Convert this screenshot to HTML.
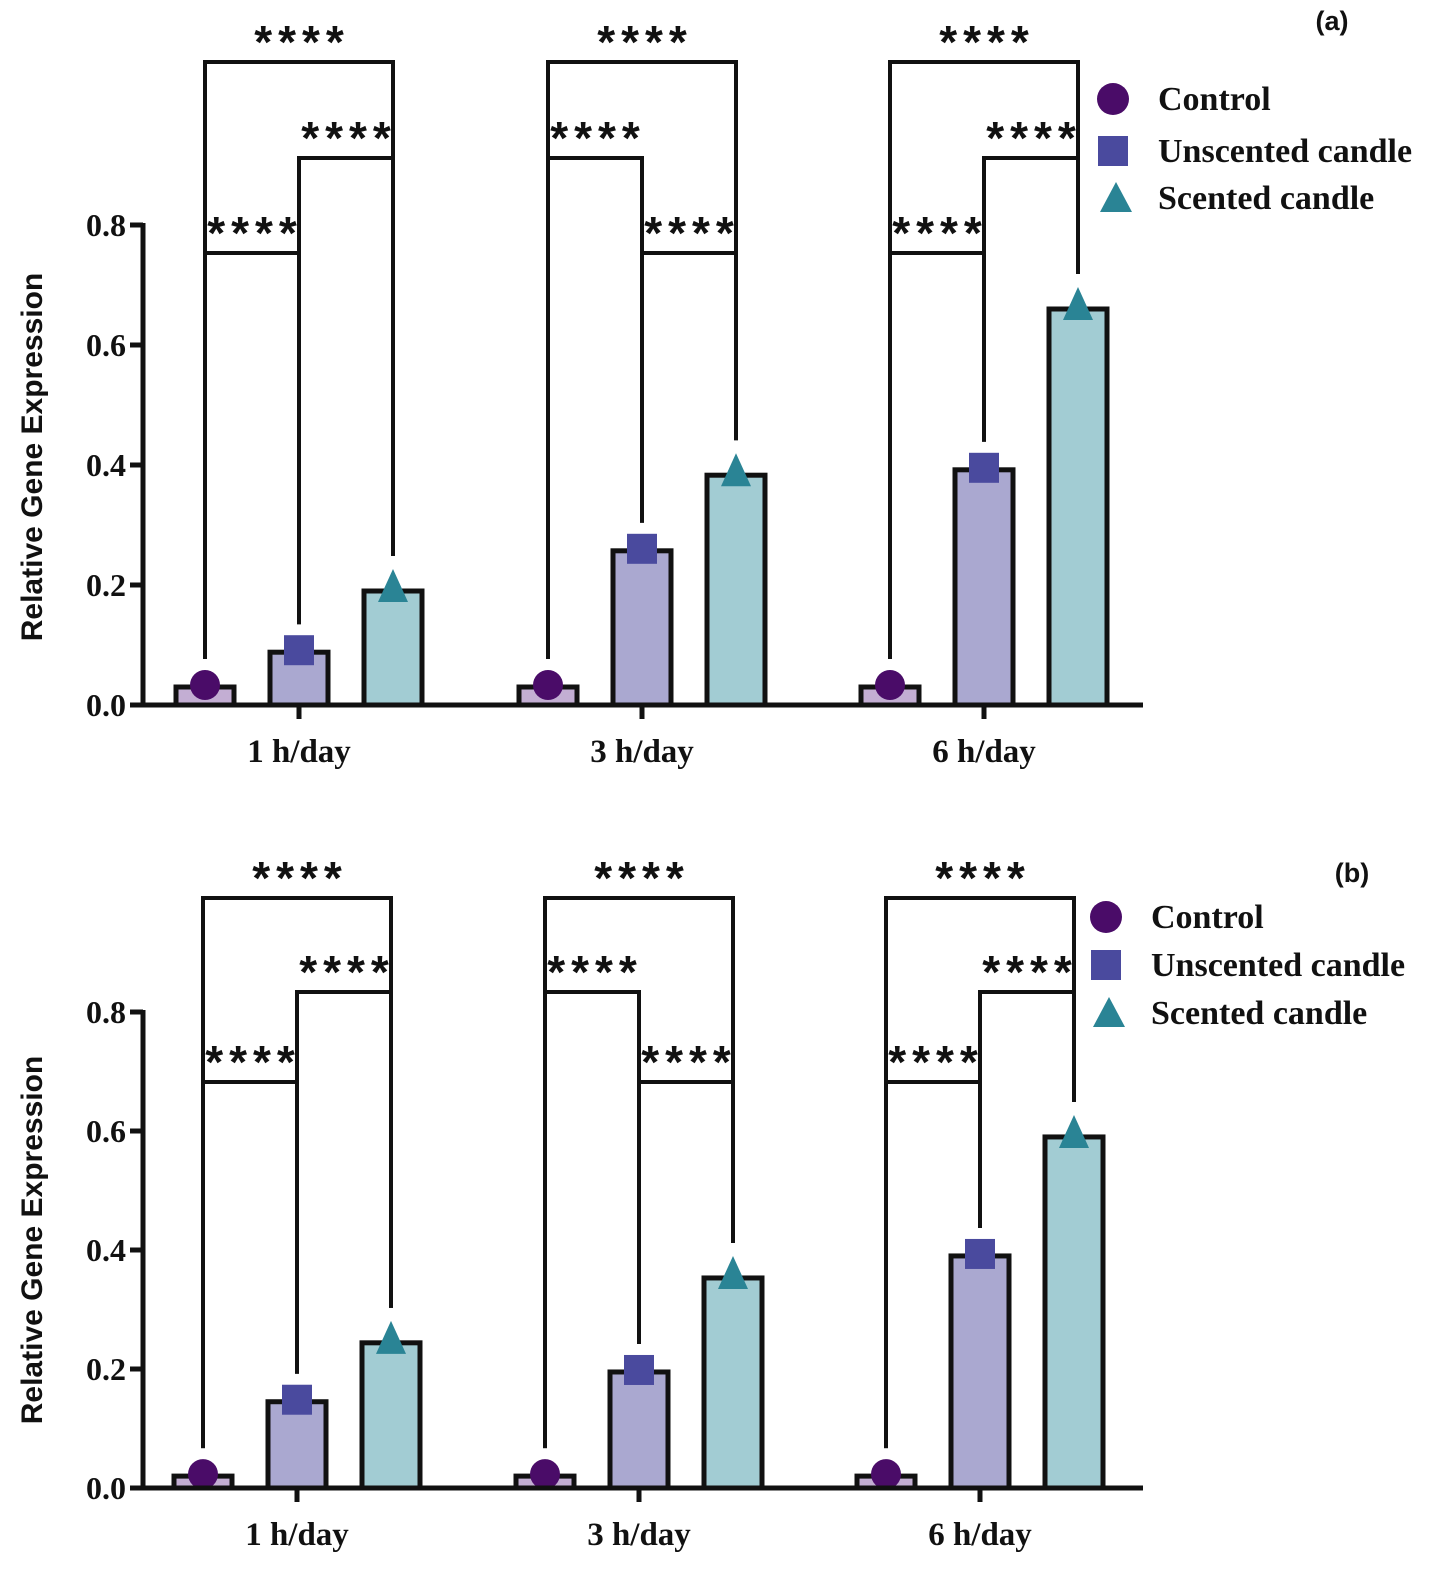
<!DOCTYPE html>
<html><head><meta charset="utf-8"><style>
body{margin:0;background:#fff}
svg text{font-family:"Liberation Serif",serif;font-weight:bold;fill:#111}
</style></head><body>
<svg id="c" width="1429" height="1575" viewBox="0 0 1429 1575" xmlns="http://www.w3.org/2000/svg"></svg>
<script>
const categories=["1 h/day","3 h/day","6 h/day"];
const seriesNames=["Control","Unscented candle","Scented candle"];
const aControl=[0.03,0.03,0.03];
const aUnscented=[0.088,0.257,0.392];
const aScented=[0.19,0.383,0.66];
const bControl=[0.02,0.02,0.02];
const bUnscented=[0.145,0.195,0.39];
const bScented=[0.244,0.353,0.59];
const yTicks=["0.0","0.2","0.4","0.6","0.8"];
const aSig=["****","****","****","****","****","****","****","****","****"];
const bSig=["****","****","****","****","****","****","****","****","****"];

const NS="http://www.w3.org/2000/svg";
const svg=document.getElementById('c');
function mk(t,a,p){const e=document.createElementNS(NS,t);for(const k in a)e.setAttribute(k,a[k]);(p||svg).appendChild(e);return e;}
const fills=["#c3aed3","#aaa8d0","#a2ccd3"];
const mcol=["#4a0c68","#4a4a9e","#2a8495"];

function panel(cfg){
  const g=mk('g',{});
  
  
  const y=v=>cfg.y0-v*cfg.scale;
  const x=(gi,si)=>cfg.gx[gi]+si*cfg.dx;
  const ax=mk('line',{x1:143,y1:y(0.8)-2,x2:143,y2:cfg.y0+2,stroke:'#111','stroke-width':5},g);
  
  yTicks.forEach(t=>{const v=parseFloat(t);
    mk('line',{x1:130,x2:143,y1:y(v),y2:y(v),stroke:'#111','stroke-width':5},g);
    const tx=mk('text',{x:126,y:y(v)+11,'text-anchor':'end','font-size':32},g);tx.textContent=t;
    });
  const yt=mk('text',{transform:`translate(42,${cfg.y0-248}) rotate(-90)`,'text-anchor':'middle','font-size':30,style:'font-family:"Liberation Sans",sans-serif'},g);
  yt.textContent='Relative Gene Expression';
  
  const series=[cfg.c,cfg.u,cfg.s];
  categories.forEach((c,gi)=>{
    series.forEach((arr,si)=>{
      const cx=x(gi,si),v=arr[gi];
      const b=mk('rect',{x:cx-29,y:y(v),width:58,height:cfg.y0-y(v),fill:fills[si],stroke:'#111','stroke-width':5},g);
      
      
      let m;
      if(si==0) m=mk('circle',{cx:cx,cy:y(v)-2,r:15,fill:mcol[0]},g);
      else if(si==1) m=mk('rect',{x:cx-15,y:y(v)-17,width:30,height:30,fill:mcol[1]},g);
      else m=mk('polygon',{points:`${cx},${y(v)-22} ${cx-15},${y(v)+11} ${cx+15},${y(v)+11}`,fill:mcol[2]},g);
      
      
    });
    const tl=mk('text',{x:x(gi,1),y:cfg.y0+57,'text-anchor':'middle','font-size':33},g);tl.textContent=c;
    
    mk('line',{x1:x(gi,1),x2:x(gi,1),y1:cfg.y0,y2:cfg.y0+14,stroke:'#111','stroke-width':5},g);
    cfg.br[gi].forEach((bk,k)=>{
      const [a,b2,lvl]=bk;const by=cfg.levels[lvl];
      const ya=y(series[a][gi])-(a==2?35:28), yb=y(series[b2][gi])-(b2==2?35:28);
      const p=mk('path',{d:`M${x(gi,a)},${ya} V${by} H${x(gi,b2)} V${yb}`,fill:'none',stroke:'#111','stroke-width':4},g);
      
      const st=mk('text',{x:(x(gi,a)+x(gi,b2))/2+3,y:by-4,'text-anchor':'middle','font-size':46,'letter-spacing':'6',style:'font-family:"Liberation Sans",sans-serif'},g);
      st.textContent=cfg.sig[gi*3+k];
      
    });
  });
  const xa=mk('line',{x1:141,x2:1143,y1:cfg.y0,y2:cfg.y0,stroke:'#111','stroke-width':5},g);
  
  seriesNames.forEach((n,i)=>{
    const lx=cfg.lx,ly=cfg.ly[i];let m;
    if(i==0) m=mk('circle',{cx:lx,cy:ly,r:16,fill:mcol[0]},g);
    else if(i==1) m=mk('rect',{x:lx-15,y:ly-15,width:30,height:30,fill:mcol[1]},g);
    else m=mk('polygon',{points:`${lx+3},${ly-16} ${lx-13},${ly+14} ${lx+19},${ly+14}`,fill:mcol[2]},g);
    
    const t=mk('text',{x:cfg.lx+45,y:ly+11,'font-size':34},g);t.textContent=n;
    
  });
  const pl=mk('text',{x:cfg.px,y:cfg.py,'text-anchor':'middle','font-size':27,style:'font-family:"Liberation Sans",sans-serif'},g);
  pl.textContent=cfg.label;
}
panel({name:'panel-a',y0:705,scale:600,gx:[205,548,890],dx:94,c:aControl,u:aUnscented,s:aScented,sig:aSig,
  levels:[62,158,253],br:[[[0,2,0],[1,2,1],[0,1,2]],[[0,2,0],[0,1,1],[1,2,2]],[[0,2,0],[1,2,1],[0,1,2]]],
  lx:1113,ly:[99,151,198],label:'(a)',px:1332,py:30});
panel({name:'panel-b',y0:1488,scale:595,gx:[203,545,886],dx:94,c:bControl,u:bUnscented,s:bScented,sig:bSig,
  levels:[898,992,1082],br:[[[0,2,0],[1,2,1],[0,1,2]],[[0,2,0],[0,1,1],[1,2,2]],[[0,2,0],[1,2,1],[0,1,2]]],
  lx:1106,ly:[917,965,1013],label:'(b)',px:1352,py:882});
</script>
</body></html>
